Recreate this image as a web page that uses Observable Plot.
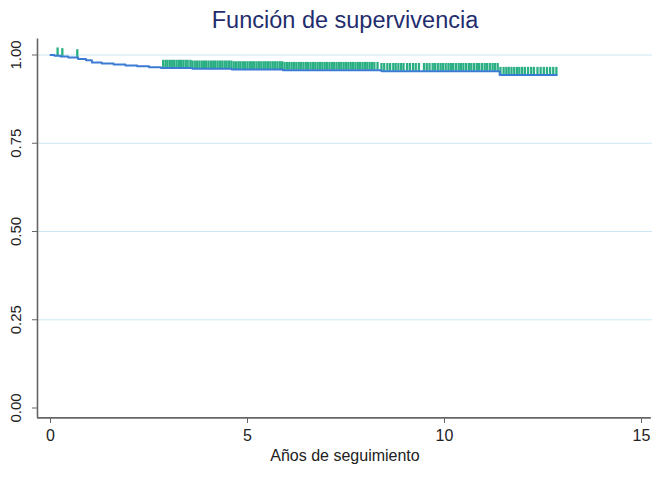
<!DOCTYPE html>
<html><head><meta charset="utf-8">
<script src="https://cdn.jsdelivr.net/npm/d3@7"></script>
<script src="https://cdn.jsdelivr.net/npm/@observablehq/plot@0.6"></script>
<style>
body{margin:0;background:#fff;font-family:"Liberation Sans",Arial,sans-serif;}
#title{height:36px;line-height:40px;text-align:center;padding-left:26px;box-sizing:border-box;width:664px;font-size:23.5px;color:#1f2d6e;}
</style></head><body>
<div id="title">Función de supervivencia</div>
<div id="chart"></div>
<script>
const stepTimes = [0, 0.1, 0.25, 0.45, 0.7, 0.9, 1.05, 1.3, 1.6, 1.9, 2.2, 2.5, 2.8, 3.6, 4.6, 5.9, 8.4, 11.4, 12.85];
const stepSurv  = [1.000, 0.998, 0.996, 0.993, 0.989, 0.985, 0.979, 0.976, 0.973, 0.970, 0.968, 0.965, 0.963, 0.961, 0.959, 0.957, 0.954, 0.943, 0.943];
const censorTimes = [0.18, 0.3, 0.68,
  2.86, 2.92, 2.97, 3.03, 3.09, 3.14, 3.2, 3.26, 3.31, 3.37, 3.43, 3.48, 3.55, 3.6, 3.66, 3.72, 3.78, 3.84, 3.9, 3.95,
  4.01, 4.07, 4.13, 4.18, 4.24, 4.3, 4.36, 4.42, 4.47, 4.53, 4.59, 4.65, 4.71, 4.77, 4.82, 4.88, 4.94,
  5.0, 5.06, 5.12, 5.17, 5.23, 5.29, 5.35, 5.41, 5.46, 5.52, 5.58, 5.64, 5.7, 5.76, 5.82, 5.88, 5.94,
  6.0, 6.06, 6.12, 6.18, 6.24, 6.3, 6.36, 6.42, 6.48, 6.54, 6.6, 6.66, 6.72, 6.78, 6.84, 6.9, 6.96,
  7.02, 7.08, 7.14, 7.2, 7.26, 7.32, 7.38, 7.44, 7.5, 7.56, 7.62, 7.68, 7.74, 7.8, 7.86, 7.92, 7.98,
  8.04, 8.1, 8.16, 8.22, 8.3, 8.4, 8.47, 8.55, 8.62, 8.7, 8.76, 8.83, 8.9, 8.96, 9.05, 9.12, 9.2, 9.27, 9.35,
  9.48, 9.55, 9.62, 9.7, 9.76, 9.83, 9.9, 9.96, 10.03, 10.1, 10.16, 10.22, 10.29, 10.36, 10.42, 10.48, 10.55,
  10.62, 10.68, 10.75, 10.82, 10.88, 10.95, 11.02, 11.08, 11.15, 11.22, 11.28, 11.35, 11.42,
  11.5, 11.57, 11.63, 11.7, 11.77, 11.84, 11.9, 11.97, 12.04, 12.12, 12.2, 12.27, 12.36, 12.44, 12.52, 12.6, 12.68, 12.76, 12.84];
const yTicks = [0, 0.25, 0.5, 0.75, 1];
const xTicks = [0, 5, 10, 15];
const xLabel = "Años de seguimiento";

const steps = stepTimes.map((t, i) => ({t, s: stepSurv[i]}));
const survAt = t => { let s = 1; for (const d of steps) { if (d.t <= t) s = d.s; } return s; };
const censored = censorTimes.map(t => ({t, s: survAt(t)}));

const blue = "#3b7bd4", green = "#2aae84", axisCol = "#666";
const chart = Plot.plot({
  width: 664, height: 450,
  marginLeft: 37, marginRight: 12, marginTop: 4, marginBottom: 69,
  style: {fontFamily: '"Liberation Sans", Arial, sans-serif', fontSize: "16px", color: "#111"},
  x: {domain: [0, 15], range: [50, 641]},
  y: {domain: [0, 1], range: [371.5, 18.5]},
  marks: [
    Plot.ruleY(yTicks.filter(d => d > 0), {stroke: "#cce8f3", strokeWidth: 1}),
    Plot.ruleX([-0.33], {y1: -0.028, y2: 1.045, stroke: axisCol, strokeWidth: 1.6}),
    Plot.ruleY([-0.028], {x1: -0.33, x2: 15.25, stroke: axisCol, strokeWidth: 1.6}),
    Plot.axisY({ticks: yTicks, tickSize: 5, tickFormat: () => "", stroke: axisCol, label: null}),
    Plot.text(yTicks, {y: d => d, frameAnchor: "left", dx: -21, rotate: -90, textAnchor: "middle", lineAnchor: "middle", text: d => d3.format(".2f")(d), fontSize: 15, fill: "#222"}),
    Plot.axisX({ticks: xTicks, tickSize: 6, tickPadding: 6, stroke: axisCol, fill: "#222", label: null, fontSize: 16}),
    Plot.text([xLabel], {frameAnchor: "bottom", lineAnchor: "middle", dy: 38, fontSize: 16, fill: "#222"}),
    Plot.ruleX(censored, {x: "t", y1: "s", y2: d => d.s + 0.022, stroke: green, strokeWidth: 2.3}),
    Plot.line(steps, {x: "t", y: "s", curve: "step-after", stroke: blue, strokeWidth: 2})
  ]
});
document.getElementById("chart").append(chart);
</script>
</body></html>
